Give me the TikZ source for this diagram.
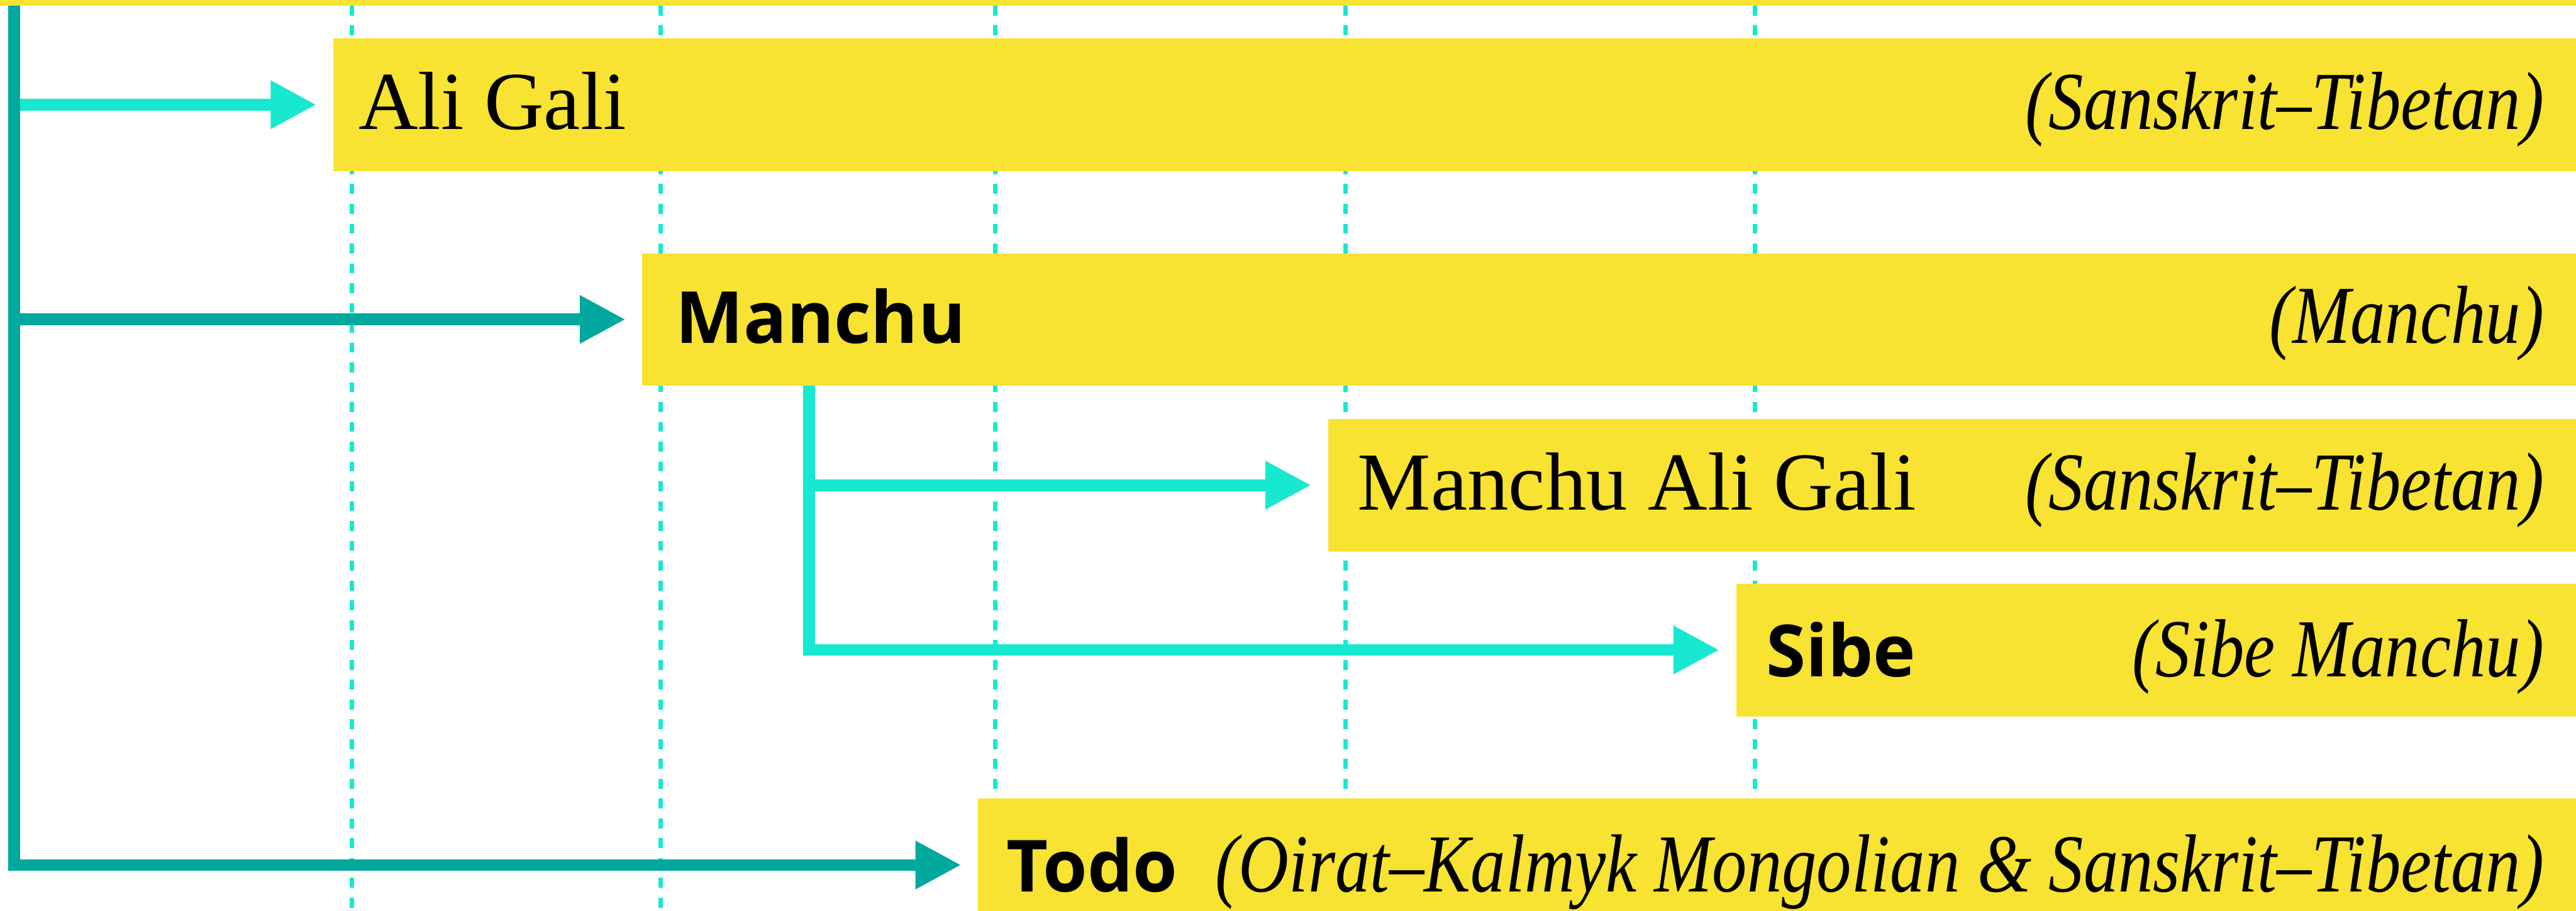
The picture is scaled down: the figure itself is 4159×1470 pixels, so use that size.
\documentclass[tikz,border=0pt]{standalone}
\usepackage{fontspec}
\usepackage{graphicx}
\setmainfont{Liberation Serif}
\newfontfamily\labsans{Open Sans}
\usetikzlibrary{arrows.meta,fit}
\definecolor{ybox}{RGB}{248,226,50}
\definecolor{tealdark}{RGB}{0,168,158}
\definecolor{cyanlight}{RGB}{24,232,208}
\begin{document}
\begin{tikzpicture}[x=0.1pt,y=-0.1pt,
  box/.style={fill=ybox, draw=none, inner sep=0pt, outer sep=0pt},
  gridline/.style={cyanlight, line width=0.7pt, dash pattern=on 1.6pt off 1.6pt},
  tipped/.style={-{Triangle[length=7.4pt,width=7.3pt]}, shorten >=2.7pt},
  darkline/.style={tealdark, line width=1.9pt, line join=miter, tipped},
  lightline/.style={cyanlight, line width=1.9pt, line join=miter, tipped},
  serifname/.style={font=\fontsize{13.3pt}{16pt}\selectfont, inner sep=0pt, anchor=base west},
  sansname/.style={font=\labsans\bfseries\fontsize{11.6pt}{14pt}\selectfont, inner sep=0pt, anchor=base west},
  scriptname/.style={font=\fontsize{13.3pt}{16pt}\selectfont\itshape, inner sep=0pt, anchor=base east}
]
\useasboundingbox (0,0) rectangle (4159,1470);

% dashed guide lines
\foreach \gx/\gn in {568/ga,1067/gb,1607/gc,2172/gd,2833/ge} {
  \coordinate (\gn top) at (\gx,9);
  \coordinate (\gn bot) at (\gx,1470);
  \draw[gridline] (\gn top) -- (\gn bot);
}

% top bar
\node[box, fit={(0,0) (4159,9)}] (topbar) {};

% boxes
\node[box, fit={(538,62) (4159,276)}] (ali) {};
\node[box, fit={(1037,409) (4159,622)}] (manchu) {};
\node[box, fit={(2144,676) (4159,890)}] (mag) {};
\node[box, fit={(2803,942) (4159,1156)}] (sibe) {};
\node[box, fit={(1579,1289) (4159,1503)}] (todo) {};

% labels
\node[serifname] (ali-n) at (577,209) {Ali Gali};
\node[scriptname] (ali-s) at (4109,209) {\scalebox{0.845}[1]{(Sanskrit–Tibetan)}};
\node[sansname] (manchu-n) at (1089,554) {Manchu};
\node[scriptname] (manchu-s) at (4109,554) {\scalebox{0.845}[1]{(Manchu)}};
\node[serifname] (mag-n) at (2190,823) {Manchu Ali Gali};
\node[scriptname] (mag-s) at (4109,823) {\scalebox{0.845}[1]{(Sanskrit–Tibetan)}};
\node[sansname] (sibe-n) at (2850,1092) {Sibe};
\node[scriptname] (sibe-s) at (4109,1092) {\scalebox{0.845}[1]{(Sibe Manchu)}};
\node[sansname] (todo-n) at (1623,1439) {Todo};
\node[scriptname] (todo-s) at (4109,1439) {\scalebox{0.845}[1]{(Oirat–Kalmyk Mongolian \& Sanskrit–Tibetan)}};

% connectors
\coordinate (trunk) at (23,9);
\coordinate (mx) at (1306,0);
\draw[lightline] (trunk |- ali.west) -- (ali.west);
\draw[lightline] (manchu.south -| mx) |- (mag.west);
\draw[lightline] (manchu.south -| mx) |- (sibe.west);
\draw[darkline] (trunk |- manchu.west) -- (manchu.west);
\draw[darkline] (trunk) |- (todo.west);
\end{tikzpicture}
\end{document}
